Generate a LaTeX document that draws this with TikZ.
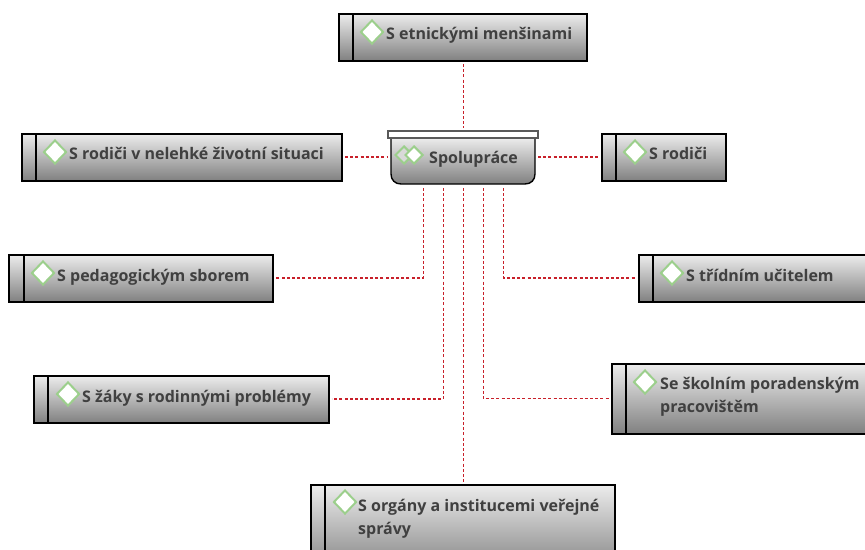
\documentclass[tikz,border=0pt]{standalone}
\usepackage{fontspec}
\setmainfont{Open Sans}
\usetikzlibrary{shapes.geometric}
\definecolor{txt}{HTML}{404040}
\definecolor{dia}{HTML}{9CCF8C}
\definecolor{conn}{HTML}{C8202A}
\tikzset{
  x=1pt,y=-1pt,
  item/.style={draw=black,line width=1.3pt,inner sep=0,outer sep=0,anchor=north west,top color=gray!15,bottom color=gray!95!black!95,shading angle=0},
  mark box/.style={draw=dia,line width=2pt,fill=white,diamond,inner sep=0,minimum width=23pt,minimum height=24pt,aspect=1},
  label/.style={anchor=base west,inner sep=0,text=txt,font=\fontsize{16}{23}\selectfont\bfseries,align=left},
  divider/.style={draw=black,line width=1.2pt},
  link/.style={draw=conn,line width=1.5pt,dash pattern=on 3pt off 2.2pt,shorten >=3pt,shorten <=3pt},
}
\newcommand{\itembox}[6]{% name, x, y, w, h, divider x
  \node[item,minimum width=#4pt,minimum height=#5pt] (#1) at (#2,#3) {};
  \draw[divider] (#6,#3) -- (#6,#3+#5);
}
\begin{document}
\begin{tikzpicture}
\clip (0,0) rectangle (865,549);
\fill[white] (0,0) rectangle (865,549);
% centre node
\path[top color=gray!15,bottom color=gray!95!black!95,draw=black,line width=1.4pt]
  (391,138) -- (391,174) .. controls (391,180) and (395,184) .. (401,184) -- (525,184) .. controls (531,184) and (535,180) .. (535,174) -- (535,138) -- cycle;
\node[draw=gray!70!black,fill=white,line width=1.4pt,outer sep=0,minimum width=150pt,minimum height=7pt,inner sep=0,anchor=north west] (spbar) at (388,131) {};
\node[mark box,minimum width=18pt,minimum height=18pt,fill=gray!30] (spd1) at (404,155) {};
\node[mark box,minimum width=18pt,minimum height=18pt] (spd2) at (414,155) {};
\node[label] (sptext) at (429,163) {Spolupráce};
% boxes
\itembox{a}{339}{14}{248}{47}{353}
\itembox{b}{22}{134}{320}{47}{36}
\itembox{c}{602}{134}{124}{47}{616}
\itembox{d}{9}{255}{264}{47}{24}
\itembox{e}{639}{255}{240}{47}{653}
\itembox{f}{34}{376}{295}{47}{48}
\itembox{g}{612}{364}{270}{70}{626}
\itembox{h}{311}{485}{304}{90}{325}
% marks
\node[mark box] (am) at (372,32) {};
\node[mark box] (bm) at (55,152) {};
\node[mark box] (cm) at (635,152) {};
\node[mark box] (dm) at (43,273) {};
\node[mark box] (em) at (672,273) {};
\node[mark box] (fm) at (68,394) {};
\node[mark box] (gm) at (645,382) {};
\node[mark box] (hm) at (345,502) {};
% texts
\node[label] (at) at (386,39) {S etnickými menšinami};
\node[label] (bt) at (69,159) {S rodiči v nelehké životní situaci};
\node[label] (ct) at (649,159) {S rodiči};
\node[label] (dt) at (57,281) {S pedagogickým sborem};
\node[label] (et) at (686,281) {S třídním učitelem};
\node[label] (ft) at (82,402) {S žáky s rodinnými problémy};
\node[label] (gt) at (660,412) {Se školním poradenským\\pracovištěm};
\node[label] (ht) at (358,534) {S orgány a institucemi veřejné\\správy};
% connector anchors
\coordinate (s1) at (423.3,185);
\coordinate (s2) at (443.3,185);
\coordinate (s3) at (463.3,185);
\coordinate (s4) at (483.3,185);
\coordinate (s5) at (503.3,185);
\coordinate (stop) at (463.3,131);
\coordinate (sleft) at (391,157.1);
\coordinate (sright) at (535,157.1);
% connectors
\draw[link] (a.south -| stop) -- (stop);
\draw[link] ([yshift=0.4pt]b.east) -- (sleft);
\draw[link] (sright) -- ([yshift=0.4pt]c.west);
\draw[link] (s1) |- ([yshift=0.4pt]d.east);
\draw[link] (s5) |- ([yshift=0.4pt]e.west);
\draw[link] (s2) |- ([yshift=0.4pt]f.east);
\draw[link] (s4) |- ([yshift=0.4pt]g.west);
\draw[link] (s3) -- (h.north -| s3);
\end{tikzpicture}
\end{document}
